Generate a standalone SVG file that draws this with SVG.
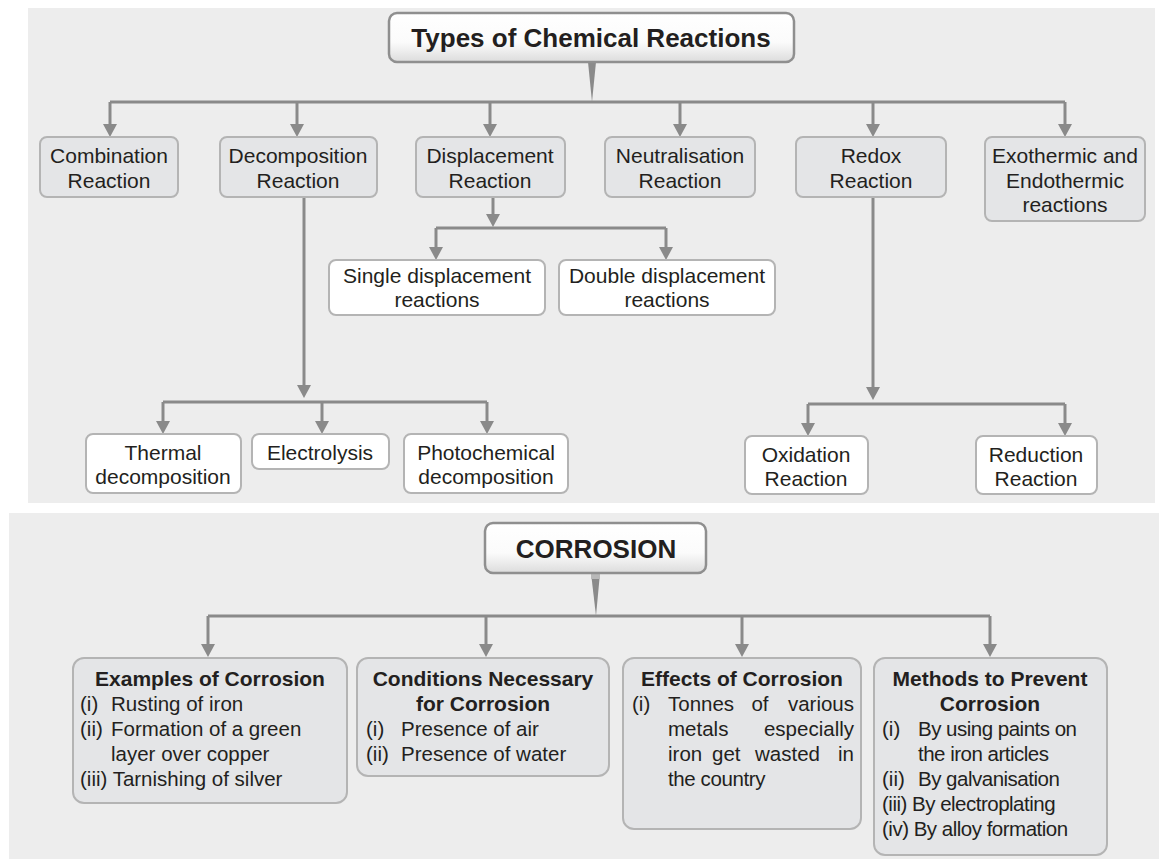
<svg xmlns="http://www.w3.org/2000/svg" width="1159" height="859" viewBox="0 0 1159 859">
  <defs>
    <linearGradient id="titleFill" x1="0" y1="0" x2="0" y2="1">
      <stop offset="0" stop-color="#ffffff"/>
      <stop offset="0.6" stop-color="#fbfbfb"/>
      <stop offset="1" stop-color="#dcdcdc"/>
    </linearGradient>
    <marker id="arrow" viewBox="0 0 13 14" refX="5" refY="7" markerWidth="13" markerHeight="14" markerUnits="userSpaceOnUse" orient="auto">
      <path d="M0,0 L13,7 L0,14 Z" fill="#8a8a8a"/>
    </marker>
    <style>
      .panel { fill: #ededed; }
      .title { fill: url(#titleFill); stroke: #8f8f8f; stroke-width: 2.5; }
      .main { fill: #e4e5e7; stroke: #b4b4b4; stroke-width: 2; }
      .sub { fill: #ffffff; stroke: #b4b4b4; stroke-width: 2; }
      .wire { fill: none; stroke: #8a8a8a; stroke-width: 3; }
      .arr { fill: none; stroke: #8a8a8a; stroke-width: 3; marker-end: url(#arrow); }
      .wedge { fill: #8a8a8a; }
      text { font-family: "Liberation Sans", Arial, Helvetica, sans-serif; fill: #231f20; }
      .t1 { font-size: 26px; font-weight: bold; text-anchor: middle; }
      .n { font-size: 21px; text-anchor: middle; }
      .h { font-size: 21px; font-weight: bold; text-anchor: middle; }
      .b { font-size: 20.5px; }
      .e { text-anchor: end; }
    </style>
  </defs>

  <!-- backgrounds -->
  <rect class="panel" x="28" y="8" width="1127" height="495"/>
  <rect class="panel" x="9" y="513" width="1150" height="346"/>

  <!-- connectors -->
  <g id="connectors">
    <!-- reaction types -->
    <polygon class="wedge" points="588,62 596,62 592,102"/>
    <path class="wire" d="M110,102 H1065"/>
    <path class="arr" d="M110,102 V129"/>
    <path class="arr" d="M297,102 V129"/>
    <path class="arr" d="M490,102 V129"/>
    <path class="arr" d="M680,102 V129"/>
    <path class="arr" d="M873,102 V129"/>
    <path class="arr" d="M1065,102 V129"/>
    <!-- displacement branch -->
    <path class="arr" d="M493,197 V219"/>
    <path class="wire" d="M436,228 H666"/>
    <path class="arr" d="M436,228 V252"/>
    <path class="arr" d="M666,228 V252"/>
    <!-- decomposition branch -->
    <path class="arr" d="M304,197 V390"/>
    <path class="wire" d="M163,402 H487"/>
    <path class="arr" d="M163,402 V426"/>
    <path class="arr" d="M322,402 V426"/>
    <path class="arr" d="M487,402 V426"/>
    <!-- redox branch -->
    <path class="arr" d="M873,197 V392"/>
    <path class="wire" d="M808,404 H1065"/>
    <path class="arr" d="M808,404 V428"/>
    <path class="arr" d="M1065,404 V428"/>
    <!-- corrosion -->
    <polygon class="wedge" points="591,573 600,573 596,616"/>
    <rect x="591" y="573" width="9" height="6" fill="#b8b8b8"/>
    <path class="wire" d="M208,616 H990"/>
    <path class="arr" d="M208,616 V649"/>
    <path class="arr" d="M486,616 V649"/>
    <path class="arr" d="M742,616 V649"/>
    <path class="arr" d="M990,616 V649"/>
  </g>

  <!-- title: reaction types -->
  <g id="types-title">
    <rect class="title" x="389" y="13" width="405" height="49" rx="8"/>
    <text class="t1" x="591" y="47">Types of Chemical Reactions</text>
  </g>

  <g id="combination">
    <rect class="main" x="40" y="137" width="138" height="60" rx="7"/>
    <text class="n" x="109" y="163">Combination</text>
    <text class="n" x="109" y="188">Reaction</text>
  </g>
  <g id="decomposition">
    <rect class="main" x="220" y="137" width="157" height="60" rx="7"/>
    <text class="n" x="298" y="163">Decomposition</text>
    <text class="n" x="298" y="188">Reaction</text>
  </g>
  <g id="displacement">
    <rect class="main" x="416" y="137" width="149" height="60" rx="7"/>
    <text class="n" x="490" y="163">Displacement</text>
    <text class="n" x="490" y="188">Reaction</text>
  </g>
  <g id="neutralisation">
    <rect class="main" x="605" y="137" width="150" height="60" rx="7"/>
    <text class="n" x="680" y="163">Neutralisation</text>
    <text class="n" x="680" y="188">Reaction</text>
  </g>
  <g id="redox">
    <rect class="main" x="796" y="137" width="150" height="60" rx="7"/>
    <text class="n" x="871" y="163">Redox</text>
    <text class="n" x="871" y="188">Reaction</text>
  </g>
  <g id="thermic">
    <rect class="main" x="985" y="137" width="160" height="84" rx="7"/>
    <text class="n" x="1065" y="163">Exothermic and</text>
    <text class="n" x="1065" y="188">Endothermic</text>
    <text class="n" x="1065" y="212">reactions</text>
  </g>

  <g id="single-displacement">
    <rect class="sub" x="329" y="260" width="216" height="55" rx="7"/>
    <text class="n" x="437" y="283">Single displacement</text>
    <text class="n" x="437" y="307">reactions</text>
  </g>
  <g id="double-displacement">
    <rect class="sub" x="559" y="260" width="216" height="55" rx="7"/>
    <text class="n" x="667" y="283">Double displacement</text>
    <text class="n" x="667" y="307">reactions</text>
  </g>

  <g id="thermal">
    <rect class="sub" x="86" y="434" width="155" height="59" rx="7"/>
    <text class="n" x="163" y="460">Thermal</text>
    <text class="n" x="163" y="484">decomposition</text>
  </g>
  <g id="electrolysis">
    <rect class="sub" x="252" y="434" width="137" height="35" rx="7"/>
    <text class="n" x="320" y="460">Electrolysis</text>
  </g>
  <g id="photochemical">
    <rect class="sub" x="404" y="434" width="164" height="59" rx="7"/>
    <text class="n" x="486" y="460">Photochemical</text>
    <text class="n" x="486" y="484">decomposition</text>
  </g>

  <g id="oxidation">
    <rect class="sub" x="745" y="436" width="123" height="58" rx="7"/>
    <text class="n" x="806" y="462">Oxidation</text>
    <text class="n" x="806" y="486">Reaction</text>
  </g>
  <g id="reduction">
    <rect class="sub" x="976" y="436" width="121" height="58" rx="7"/>
    <text class="n" x="1036" y="462">Reduction</text>
    <text class="n" x="1036" y="486">Reaction</text>
  </g>

  <!-- title: corrosion -->
  <g id="corrosion-title">
    <rect class="title" x="485" y="523" width="221" height="50" rx="8"/>
    <text class="t1" x="596" y="558">CORROSION</text>
  </g>

  <g id="examples">
    <rect class="main" x="73" y="658" width="274" height="145" rx="11"/>
    <text class="h" x="210" y="686">Examples of Corrosion</text>
    <text class="b" x="80" y="711">(i)</text>
    <text class="b" x="111" y="711">Rusting of iron</text>
    <text class="b" x="80" y="736">(ii)</text>
    <text class="b" x="111" y="736">Formation of a green</text>
    <text class="b" x="111" y="761">layer over copper</text>
    <text class="b" x="80" y="786">(iii) Tarnishing of silver</text>
  </g>
  <g id="conditions">
    <rect class="main" x="357" y="658" width="252" height="118" rx="11"/>
    <text class="h" x="483" y="686">Conditions Necessary</text>
    <text class="h" x="483" y="711">for Corrosion</text>
    <text class="b" x="366" y="736">(i)</text>
    <text class="b" x="401" y="736">Presence of air</text>
    <text class="b" x="366" y="761">(ii)</text>
    <text class="b" x="401" y="761">Presence of water</text>
  </g>
  <g id="effects">
    <rect class="main" x="623" y="658" width="238" height="171" rx="11"/>
    <text class="h" x="742" y="686">Effects of Corrosion</text>
    <!-- justified lines: words placed one by one -->
    <text class="b" x="632" y="711">(i)</text>
    <text class="b" x="668" y="711">Tonnes</text>
    <text class="b" x="760" y="711" text-anchor="middle">of</text>
    <text class="b e" x="854" y="711">various</text>
    <text class="b" x="668" y="736">metals</text>
    <text class="b e" x="854" y="736">especially</text>
    <text class="b" x="668" y="761">iron</text>
    <text class="b" x="712" y="761">get</text>
    <text class="b" x="755" y="761">wasted</text>
    <text class="b e" x="854" y="761">in</text>
    <text class="b" x="668" y="786" letter-spacing="-0.4">the country</text>
  </g>
  <g id="methods">
    <rect class="main" x="874" y="658" width="233" height="197" rx="11"/>
    <text class="h" x="990" y="686">Methods to Prevent</text>
    <text class="h" x="990" y="711">Corrosion</text>
    <text class="b" x="882" y="736">(i)</text>
    <text class="b" x="918" y="736" letter-spacing="-0.5">By using paints on</text>
    <text class="b" x="918" y="761" letter-spacing="-0.5">the iron articles</text>
    <text class="b" x="882" y="786">(ii)</text>
    <text class="b" x="918" y="786" letter-spacing="-0.5">By galvanisation</text>
    <text class="b" x="882" y="811" letter-spacing="-0.5">(iii) By electroplating</text>
    <text class="b" x="882" y="836" letter-spacing="-0.5">(iv) By alloy formation</text>
  </g>
</svg>
